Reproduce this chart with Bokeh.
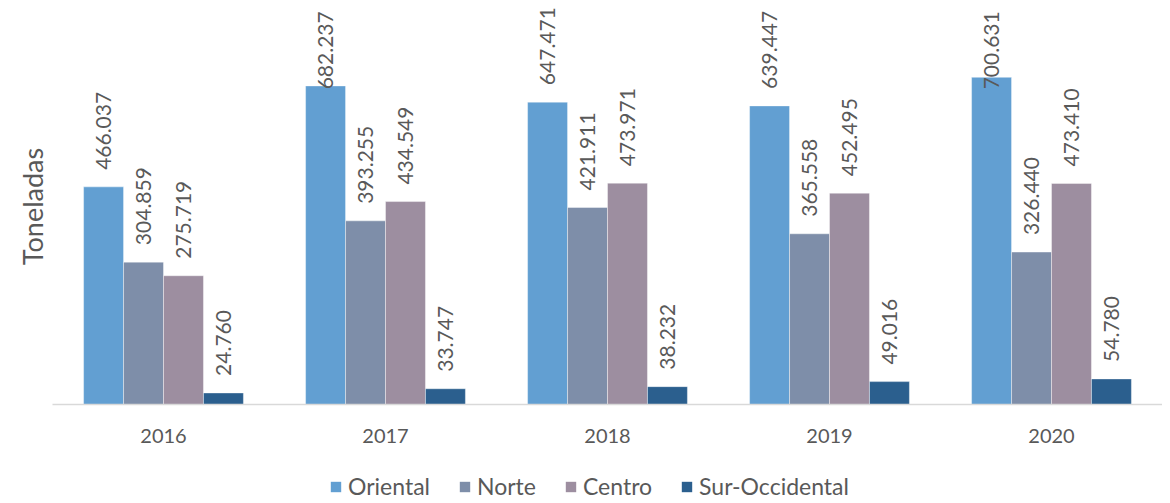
import math
from bokeh.plotting import figure
from bokeh.layouts import column
from bokeh.models import (ColumnDataSource, FactorRange, Range1d, Legend, LegendItem, FixedTicker)
from bokeh.transform import dodge
from bokeh.core.properties import value
from bokeh.embed import file_html
from bokeh.resources import INLINE

years = ["2016", "2017", "2018", "2019", "2020"]
oriental = [466037, 682237, 647471, 639447, 700631]
norte = [304859, 393255, 421911, 365558, 326440]
centro = [275719, 434549, 473971, 452495, 473410]
sur_occidental = [24760, 33747, 38232, 49016, 54780]
series_names = ["Oriental", "Norte", "Centro", "Sur-Occidental"]
series_values = [oriental, norte, centro, sur_occidental]
colors = ["#629FD2", "#7E8EA9", "#9D8EA0", "#2B5F8E"]
offsets = [-0.27, -0.09, 0.09, 0.27]

Y_END = 848000
LABEL_GAP = 36400      # gap between bar top and label start (data units)
LABEL_LEN = 158000     # approx. label length in data units
LABEL_CAP = 842000     # top limit for labels

FONT = value("Lato")
TXT = "#595959"

p = figure(frame_width=1110, frame_height=396, x_range=FactorRange(*years, range_padding=0),
           y_range=Range1d(0, Y_END), output_backend="svg", toolbar_location=None,
           min_border_left=52, min_border_right=0, min_border_top=8, min_border_bottom=0)
p.outline_line_color = None
p.grid.visible = False

for name, vals, col, off in zip(series_names, series_values, colors, offsets):
    src = ColumnDataSource(dict(year=years, top=vals))
    p.vbar(x=dodge("year", off, range=p.x_range), top="top", bottom=0, width=0.18,
           source=src, fill_color=col, line_color="white", line_width=0.8, line_alpha=0.5)

    lbl = [f"{v/1000:.3f}" for v in vals]
    normal = [v + LABEL_GAP + LABEL_LEN <= LABEL_CAP for v in vals]
    s1 = ColumnDataSource(dict(year=[y for y, n in zip(years, normal) if n],
                               ly=[v + LABEL_GAP for v, n in zip(vals, normal) if n],
                               t=[t for t, n in zip(lbl, normal) if n]))
    s2 = ColumnDataSource(dict(year=[y for y, n in zip(years, normal) if not n],
                               ly=[LABEL_CAP for v, n in zip(vals, normal) if not n],
                               t=[t for t, n in zip(lbl, normal) if not n]))
    for s, al in ((s1, "left"), (s2, "right")):
        p.text(x=dodge("year", off, range=p.x_range), y="ly", text="t", source=s,
               angle=math.pi / 2, text_align=al, text_baseline="middle",
               text_font=FONT, text_font_size="21px", text_color=TXT)

p.xaxis.axis_line_color = "#D9D9D9"
p.xaxis.axis_line_width = 1.5
p.xaxis.major_tick_line_color = None
p.xaxis.minor_tick_line_color = None
p.xaxis.major_label_text_font = "Lato"
p.xaxis.major_label_text_font_size = "20px"
p.xaxis.major_label_text_color = TXT
p.xaxis.major_label_standoff = 18

p.yaxis.ticker = FixedTicker(ticks=[])
p.yaxis.axis_line_color = None
p.yaxis.major_tick_line_color = None
p.yaxis.minor_tick_line_color = None
p.yaxis.axis_label = "Toneladas"
p.yaxis.axis_label_text_font = "Lato"
p.yaxis.axis_label_text_font_size = "27px"
p.yaxis.axis_label_text_font_style = "normal"
p.yaxis.axis_label_text_color = TXT
p.yaxis.axis_label_standoff = 4

# legend strip below the chart (zero-size proxy bars carry the legend colours)
p2 = figure(width=1154, height=55, x_range=Range1d(0, 1), y_range=Range1d(0, 1),
            output_backend="svg", toolbar_location=None,
            x_axis_location=None, y_axis_location=None,
            min_border_left=0, min_border_right=0, min_border_top=0, min_border_bottom=0)
p2.outline_line_color = None
p2.grid.visible = False
items = []
for name, col in zip(series_names, colors):
    r = p2.vbar(x=[0], top=[0], bottom=[0], width=0, fill_color=col, line_color=None)
    items.append(LegendItem(label=name, renderers=[r]))

legend = Legend(items=items, orientation="horizontal", location=(277, 0),
                border_line_color=None, background_fill_alpha=0,
                label_text_font="Lato", label_text_font_size="23px", label_text_color=TXT,
                glyph_width=13, glyph_height=13, label_standoff=6, spacing=28,
                padding=0, margin=0)
p2.add_layout(legend)

open("out.html", "w").write(file_html(column(p, p2), INLINE))
